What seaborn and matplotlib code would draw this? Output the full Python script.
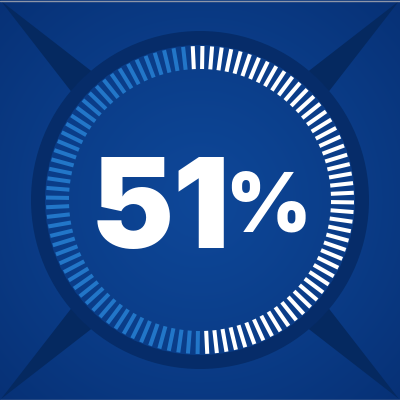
import numpy as np
import matplotlib
matplotlib.use("Agg")
import matplotlib.pyplot as plt
import seaborn as sns
from matplotlib.patches import Circle, Polygon

# ---- data ----
percent_value = 51          # share of ticks highlighted
n_ticks = 100               # total ticks around the ring
number_label = "51"
suffix_label = "%"

# ---- style ----
sns.set_theme(style="white")
plt.rcParams["font.family"] = ["Inter", "DejaVu Sans"]

BG_CENTER = np.array([0x0e, 0x47, 0x98]) / 255
BG_EDGE = np.array([0x07, 0x31, 0x76]) / 255
SPIKE = "#052960"
RING = "#062c69"
TICK_ON = "white"
TICK_OFF = "#2276c8"

fig = plt.figure(figsize=(4, 4), dpi=100)
ax = fig.add_axes([0, 0, 1, 1])
ax.set_xlim(0, 400)
ax.set_ylim(400, 0)
ax.axis("off")

# radial gradient background
yy, xx = np.mgrid[0:400, 0:400] + 0.5
d = np.clip(np.hypot(xx - 200, yy - 200) / 283, 0, 1)
img = BG_CENTER + (BG_EDGE - BG_CENTER) * d[..., None] ** 1.2
ax.imshow(img, extent=(0, 400, 400, 0), zorder=0, interpolation="bilinear")

# diagonal spikes from the corners
cx, cy = 200, 200
for ang, corner in [(225, (1, 1)), (315, (399, 1)), (135, (1, 399)), (45, (399, 399))]:
    pts = [corner]
    for da in (-5.0, 5.0):
        a = np.deg2rad(ang + da)
        pts.append((cx + 167 * np.cos(a), cy + 167 * np.sin(a)))
    ax.add_patch(Polygon(pts, closed=True, color=SPIKE, zorder=1, lw=0))

# dark ring
ax.add_patch(Circle((cx, cy), 169, color=RING, zorder=2, lw=0))
inner = ax.imshow(img, extent=(0, 400, 400, 0), zorder=3, interpolation="bilinear")
clip = Circle((cx, cy), 155, transform=ax.transData)
inner.set_clip_path(clip)

# thin frame lines top/bottom
ax.axhline(0.5, color="#8d95a8", lw=1, zorder=4)
ax.axhline(399.5, color="#8d95a8", lw=1, zorder=4)

# ticks on a polar axis
pax = fig.add_axes([0, 0, 1, 1], projection="polar")
pax.set_ylim(0, 200)
pax.set_theta_zero_location("N")
pax.set_theta_direction(-1)
pax.axis("off")
pax.patch.set_alpha(0)
idx = np.arange(n_ticks)
theta = np.deg2rad(-2.7 + 360.0 / n_ticks * idx)
on = idx < percent_value
pax.vlines(theta[~on], 131, 154, colors=TICK_OFF, lw=2.9)
pax.vlines(theta[on], 131, 154, colors=TICK_ON, lw=2.9)

# big label
tax = fig.add_axes([0, 0, 1, 1])
tax.set_xlim(0, 400)
tax.set_ylim(400, 0)
tax.axis("off")
tax.patch.set_alpha(0)
tax.text(160, 248, number_label, ha="center", va="baseline", fontsize=90,
         fontweight="black", color="white")
tax.text(268, 232, suffix_label, ha="center", va="baseline", fontsize=59,
         fontweight="black", color="white")

fig.savefig("out.png", dpi=100)
